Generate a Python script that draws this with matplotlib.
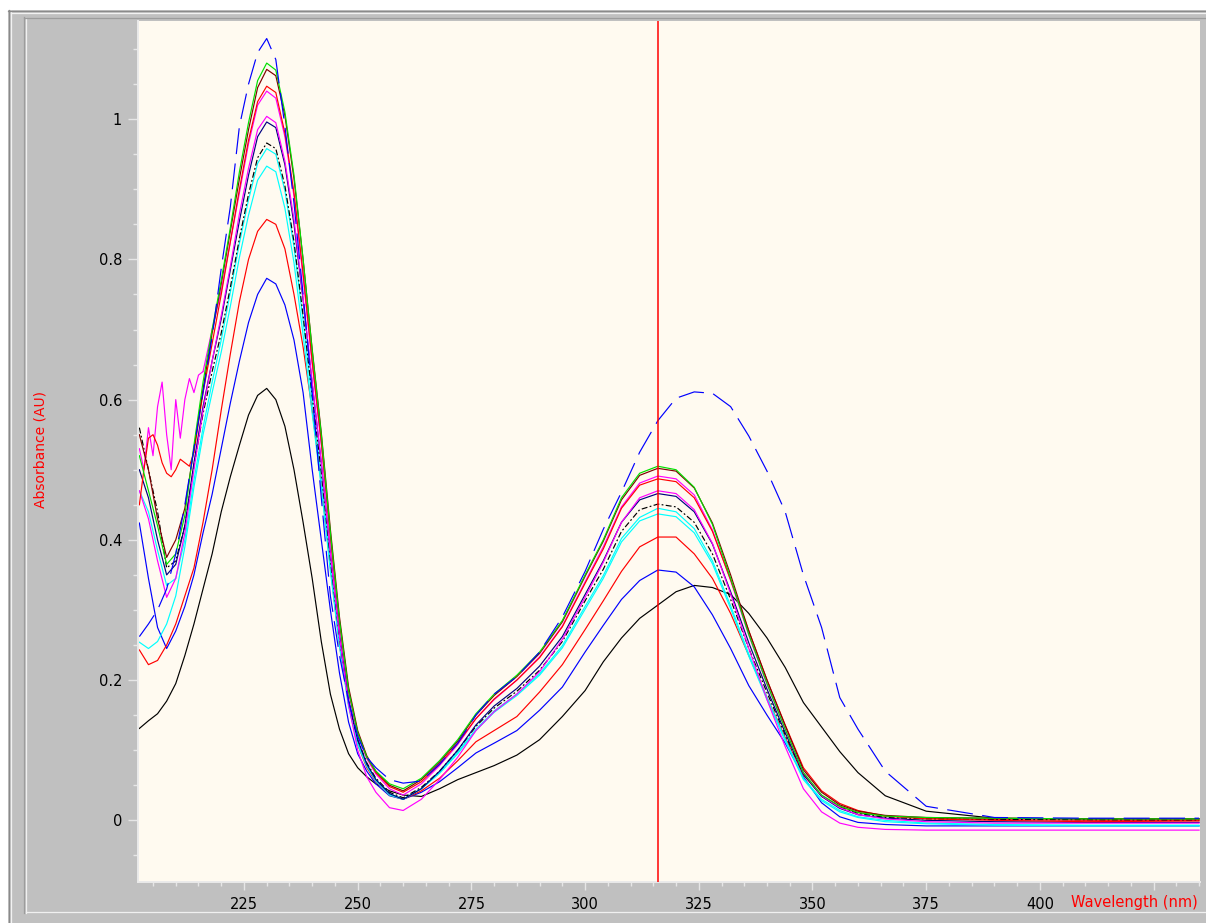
import matplotlib
matplotlib.use("Agg")
import matplotlib.pyplot as plt
from matplotlib.lines import Line2D
from matplotlib.patches import Rectangle
from matplotlib.ticker import MultipleLocator, FixedLocator, FuncFormatter

nan = float('nan')

# ---------------- data ----------------
wavelength = [202, 204, 206, 208, 210, 212, 214, 216, 218, 220, 222, 224, 226, 228, 230,
              232, 234, 236, 238, 240, 242, 244, 246, 248, 250, 252, 254, 257, 260, 264,
              268, 272, 276, 280, 285, 290, 295, 300, 304, 308, 312, 316, 320, 324, 328,
              332, 336, 340, 344, 348, 352, 356, 360, 366, 375, 390, 410, 435]

abs_blue_dashed = [0.262, 0.28, 0.30, 0.33, 0.38, 0.45,
                   0.53, 0.61, 0.69, 0.787, 0.875, 0.99, 1.05, 1.095, 1.115, 1.085, 0.99, 0.88, 0.75,
                   0.61, 0.46, 0.32, 0.235, 0.17, 0.12,
                   0.09, 0.075, 0.058, 0.053,
                   0.056, 0.08, 0.11, 0.15, 0.18, 0.205, 0.24, 0.29, 0.355, 0.415, 0.468, 0.525,
                   0.57, 0.602, 0.611, 0.609, 0.59, 0.548, 0.498, 0.44, 0.35, 0.275, 0.175, 0.13,
                   0.07, 0.02, 0.004, 0.003, 0.003]

abs_green = [0.52, 0.47, 0.42, 0.365, 0.38, 0.435,
             0.535, 0.625, 0.70, 0.77, 0.845, 0.925, 0.995, 1.055, 1.08, 1.07, 1.01, 0.92, 0.80,
             0.67, 0.55, 0.41, 0.285, 0.185, 0.125,
             0.09, 0.07, 0.052, 0.045,
             0.06, 0.085, 0.115, 0.152, 0.18, 0.207, 0.24, 0.285, 0.35, 0.40, 0.46, 0.495,
             0.505, 0.50, 0.475, 0.422, 0.345, 0.265, 0.195, 0.13, 0.068, 0.036, 0.02, 0.011,
             0.006, 0.004, 0.003, 0.002, 0.002]

abs_brown = [0.55, 0.50, 0.43, 0.375, 0.40, 0.445,
             0.53, 0.615, 0.695, 0.765, 0.84, 0.915, 0.985, 1.045, 1.071, 1.062, 1.005, 0.915, 0.80,
             0.672, 0.553, 0.415, 0.29, 0.19, 0.128,
             0.092, 0.07, 0.05, 0.042,
             0.058, 0.083, 0.113, 0.15, 0.178, 0.205, 0.238, 0.283, 0.348, 0.398, 0.457, 0.492,
             0.502, 0.498, 0.474, 0.424, 0.35, 0.27, 0.2, 0.135, 0.072, 0.04, 0.022, 0.013,
             0.007, 0.004, 0.003, 0.002, 0.002]

abs_red = [nan, nan, nan, nan, nan, nan,
           0.525, 0.61, 0.68, 0.75, 0.825, 0.90, 0.97, 1.025, 1.047, 1.038, 0.98, 0.895, 0.78,
           0.655, 0.54, 0.405, 0.283, 0.185, 0.125,
           0.09, 0.068, 0.048, 0.04,
           0.055, 0.08, 0.11, 0.145, 0.173, 0.2, 0.232, 0.276, 0.338, 0.387, 0.445, 0.478,
           0.487, 0.483, 0.46, 0.412, 0.343, 0.27, 0.2, 0.136, 0.075, 0.042, 0.024, 0.014,
           0.006, 0.002, 0.0, -0.002, -0.001]

abs_magenta1 = [nan, nan, nan, nan, nan, nan,
                nan, 0.64, 0.70, 0.755, 0.825, 0.895, 0.965, 1.02, 1.04, 1.03, 0.975, 0.89, 0.775,
                0.65, 0.535, 0.40, 0.28, 0.182, 0.122,
                0.088, 0.066, 0.045, 0.036,
                0.052, 0.078, 0.108, 0.145, 0.172, 0.2, 0.233, 0.277, 0.34, 0.39, 0.447, 0.481,
                0.491, 0.487, 0.464, 0.414, 0.342, 0.264, 0.194, 0.13, 0.068, 0.035, 0.018, 0.008,
                0.002, -0.002, -0.004, -0.004, -0.004]

abs_magenta2 = [0.47, 0.43, 0.37, 0.318, 0.345, 0.41,
                0.50, 0.585, 0.655, 0.72, 0.79, 0.865, 0.93, 0.985, 1.004, 0.995, 0.94, 0.857, 0.745,
                0.625, 0.51, 0.38, 0.262, 0.165, 0.1,
                0.062, 0.04, 0.018, 0.014,
                0.03, 0.058, 0.09, 0.128, 0.155, 0.18, 0.212, 0.258, 0.318, 0.368, 0.425, 0.46,
                0.47, 0.466, 0.443, 0.395, 0.323, 0.245, 0.172, 0.105, 0.045, 0.012, -0.004, -0.01,
                -0.013, -0.014, -0.014, -0.014, -0.014]

abs_navy = [0.50, 0.46, 0.40, 0.35, 0.365, 0.42,
            0.51, 0.59, 0.655, 0.715, 0.785, 0.855, 0.92, 0.975, 0.996, 0.988, 0.935, 0.85, 0.742,
            0.623, 0.51, 0.382, 0.266, 0.172, 0.115,
            0.08, 0.058, 0.038, 0.03,
            0.045, 0.07, 0.1, 0.136, 0.163, 0.188, 0.22, 0.262, 0.322, 0.37, 0.425, 0.457,
            0.466, 0.462, 0.44, 0.394, 0.326, 0.253, 0.187, 0.125, 0.066, 0.034, 0.017, 0.008,
            0.003, 0.0, -0.002, -0.003, -0.003]

abs_black_dashdot = [0.56, 0.50, 0.44, 0.36, 0.37, 0.42,
                     0.505, 0.58, 0.64, 0.695, 0.76, 0.83, 0.893, 0.945, 0.966, 0.958, 0.905, 0.825, 0.72,
                     0.605, 0.497, 0.372, 0.26, 0.17, 0.115,
                     0.082, 0.06, 0.04, 0.032,
                     0.047, 0.07, 0.1, 0.134, 0.16, 0.184, 0.214, 0.255, 0.313, 0.358, 0.412, 0.443,
                     0.451, 0.447, 0.425, 0.38, 0.315, 0.245, 0.182, 0.122, 0.066, 0.035, 0.019, 0.01,
                     0.004, 0.002, 0.001, 0.001, 0.0]

abs_cyan1 = [0.47, 0.44, 0.385, 0.335, 0.345, 0.40,
             0.485, 0.56, 0.625, 0.685, 0.753, 0.823, 0.885, 0.937, 0.958, 0.95, 0.898, 0.818, 0.713,
             0.598, 0.49, 0.366, 0.256, 0.167, 0.112,
             0.08, 0.058, 0.038, 0.03,
             0.045, 0.068, 0.097, 0.13, 0.156, 0.18, 0.209, 0.249, 0.305, 0.349, 0.402, 0.432,
             0.445, 0.44, 0.416, 0.37, 0.306, 0.237, 0.175, 0.116, 0.06, 0.03, 0.014, 0.005,
             0.0, -0.004, -0.006, -0.007, -0.007]

abs_cyan2 = [0.254, 0.245, 0.255, 0.28, 0.32, 0.39,
             0.475, 0.55, 0.61, 0.668, 0.733, 0.803, 0.863, 0.913, 0.933, 0.925, 0.873, 0.795, 0.692,
             0.58, 0.475, 0.355, 0.248, 0.162, 0.108,
             0.077, 0.056, 0.036, 0.03,
             0.045, 0.067, 0.095, 0.128, 0.154, 0.178, 0.207, 0.246, 0.301, 0.345, 0.397, 0.427,
             0.437, 0.433, 0.41, 0.366, 0.302, 0.234, 0.172, 0.113, 0.058, 0.028, 0.012, 0.004,
             -0.002, -0.005, -0.007, -0.008, -0.008]

abs_red2 = [0.243, 0.222, 0.228, 0.25, 0.28, 0.32,
            0.36, 0.425, 0.50, 0.585, 0.665, 0.74, 0.80, 0.84, 0.857, 0.85, 0.815, 0.75, 0.675,
            0.585, 0.48, 0.36, 0.25, 0.165, 0.108,
            0.075, 0.055, 0.036, 0.03,
            0.042, 0.06, 0.085, 0.112, 0.128, 0.148, 0.183, 0.222, 0.272, 0.313, 0.355, 0.39,
            0.404, 0.404, 0.38, 0.345, 0.295, 0.235, 0.175, 0.118, 0.065, 0.035, 0.02, 0.011,
            0.006, 0.003, 0.001, 0.0, 0.0]

abs_blue = [0.424, 0.345, 0.275, 0.245, 0.27, 0.305,
            0.35, 0.41, 0.465, 0.53, 0.595, 0.655, 0.71, 0.75, 0.773, 0.765, 0.735, 0.685, 0.61,
            0.50, 0.40, 0.30, 0.21, 0.14, 0.095,
            0.07, 0.052, 0.035, 0.03,
            0.04, 0.055, 0.075, 0.096, 0.11, 0.128, 0.157, 0.19, 0.24, 0.278, 0.315, 0.342,
            0.357, 0.354, 0.333, 0.293, 0.245, 0.192, 0.15, 0.11, 0.062, 0.025, 0.005, -0.003,
            -0.006, -0.008, -0.008, -0.008, -0.008]

abs_black = [0.131, 0.142, 0.152, 0.17, 0.195, 0.235,
             0.28, 0.33, 0.38, 0.44, 0.49, 0.535, 0.578, 0.606, 0.616, 0.60, 0.562, 0.50, 0.425,
             0.345, 0.255, 0.18, 0.13, 0.095, 0.075,
             0.062, 0.052, 0.042, 0.036,
             0.034, 0.045, 0.058, 0.068, 0.078, 0.093, 0.115, 0.148, 0.185, 0.226, 0.26, 0.288,
             0.307, 0.326, 0.335, 0.332, 0.322, 0.295, 0.26, 0.218, 0.168, 0.133, 0.098, 0.068,
             0.035, 0.013, 0.003, 0.002, 0.002]

# noisy short-wavelength parts (1 nm steps)
red_noise_wl = [202, 203, 204, 205, 206, 207, 208, 209, 210, 211, 212, 213, 214]
red_noise_abs = [0.45, 0.50, 0.545, 0.55, 0.535, 0.51, 0.495, 0.49, 0.50, 0.515, 0.51, 0.505, 0.525]
mag_noise_wl = [202, 203, 204, 205, 206, 207, 208, 209, 210, 211, 212, 213, 214, 215, 216]
mag_noise_abs = [0.53, 0.50, 0.56, 0.52, 0.59, 0.625, 0.55, 0.50, 0.60, 0.545, 0.60, 0.63, 0.61, 0.635, 0.64]

cursor_nm = 316

x_major = [225, 250, 275, 300, 325, 350, 375, 400, 425]
x_labels = ['225', '250', '275', '300', '325', '350', '375', '400', '']
y_major = [0, 0.2, 0.4, 0.6, 0.8, 1.0]
y_labels = ['0', '0.2', '0.4', '0.6', '0.8', '1']

# ---------------- figure ----------------
W, H = 1206, 923
fig = plt.figure(figsize=(W / 100, H / 100), dpi=100, facecolor='white')


def fx(px):
    return px / W


def fy(py):
    return 1 - py / H


fig.patches.append(Rectangle((fx(8), 0), 1 - fx(8), fy(10), transform=fig.transFigure,
                             facecolor='#C0C0C0', edgecolor='none', zorder=-10))


def hline(py, x0, x1, color, lw=0.9):
    fig.add_artist(Line2D([fx(x0), fx(x1)], [fy(py), fy(py)], transform=fig.transFigure,
                          color=color, lw=lw, zorder=-5))


def vline(px, y0, y1, color, lw=0.9):
    fig.add_artist(Line2D([fx(px), fx(px)], [fy(y0), fy(y1)], transform=fig.transFigure,
                          color=color, lw=lw, zorder=-5))


vline(8.5, 10, 923, '#8A8A8A')
vline(11, 11, 923, '#F2F2F2')
hline(10.5, 8, 1206, '#8A8A8A')
hline(13, 11, 1206, '#F2F2F2')
vline(24, 17, 913, '#9C9C9C')
vline(26, 18, 913, '#F0F0F0')
hline(17.5, 24, 1206, '#9C9C9C')
hline(912, 26, 1206, '#F0F0F0')

ax = fig.add_axes([fx(138), fy(882), fx(1200) - fx(138), fy(21) - fy(882)])
ax.set_zorder(5)
ax.set_facecolor('#FFFAF0')
ax.set_xlim(201.7, 435.2)
ax.set_ylim(-0.088, 1.140)

for s in ('top', 'right'):
    ax.spines[s].set_visible(False)
for s in ('left', 'bottom'):
    ax.spines[s].set_color('#EAEAEA')
    ax.spines[s].set_linewidth(1.4)

ax.xaxis.set_major_locator(FixedLocator(x_major))
ax.xaxis.set_major_formatter(FuncFormatter(lambda v, p: x_labels[x_major.index(int(round(v)))]
                                           if int(round(v)) in x_major else ''))
ax.xaxis.set_minor_locator(MultipleLocator(5))
ax.yaxis.set_major_locator(FixedLocator(y_major))
ax.yaxis.set_major_formatter(FuncFormatter(lambda v, p: y_labels[p] if p is not None and p < len(y_labels) else f'{v:g}'))
ax.yaxis.set_minor_locator(MultipleLocator(0.05))

ax.tick_params(axis='both', which='both', direction='out', color='#E6E6E6', width=1.0,
               labelsize=10.5, labelcolor='black')
ax.tick_params(axis='y', which='major', length=7.2, pad=4.3)
ax.tick_params(axis='y', which='minor', length=3.6)
ax.tick_params(axis='x', which='major', length=5.8, pad=5.0)
ax.tick_params(axis='x', which='minor', length=2.9)
for lab in ax.get_xticklabels() + ax.get_yticklabels():
    lab.set_family('DejaVu Sans')

lw = 0.85
ax.plot(wavelength, abs_black, color='#000000', lw=lw)
ax.plot(wavelength, abs_blue, color='#0000FF', lw=lw)
ax.plot(wavelength, abs_red2, color='#FF0000', lw=lw)
ax.plot(wavelength, abs_cyan2, color='#00FFFF', lw=lw)
ax.plot(wavelength, abs_cyan1, color='#00FFFF', lw=lw)
ax.plot(wavelength, abs_black_dashdot, color='#000000', lw=lw, dashes=(5, 2, 1.5, 2))
ax.plot(wavelength, abs_navy, color='#000080', lw=lw)
ax.plot(wavelength, abs_magenta2, color='#FF00FF', lw=lw)
ax.plot(wavelength, abs_magenta1, color='#FF00FF', lw=lw)
ax.plot(mag_noise_wl, mag_noise_abs, color='#FF00FF', lw=lw)
ax.plot(wavelength, abs_red, color='#FF0000', lw=lw)
ax.plot(red_noise_wl, red_noise_abs, color='#FF0000', lw=lw)
ax.plot(wavelength, abs_brown, color='#800000', lw=lw)
ax.plot(wavelength, abs_green, color='#00E000', lw=lw)
ax.plot(wavelength, abs_blue_dashed, color='#0000FF', lw=lw, dashes=(22, 8))

ax.axvline(cursor_nm, color='#FF0000', lw=1.1, zorder=6)

fig.text(fx(40), fy(450), 'Absorbance (AU)', rotation=90, color='#FF0000', fontsize=10,
         ha='center', va='center', family='DejaVu Sans', zorder=10)
fig.text(fx(1198), fy(903), 'Wavelength (nm)', color='#FF0000', fontsize=10.5,
         ha='right', va='center', family='DejaVu Sans', zorder=10)

fig.savefig('out.png', dpi=100, facecolor='white')
